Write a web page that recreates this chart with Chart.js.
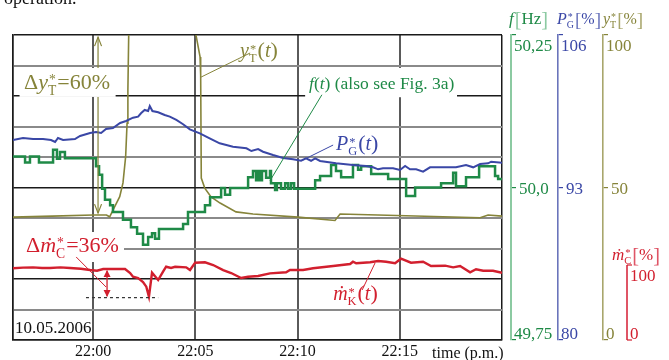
<!DOCTYPE html>
<html><head><meta charset="utf-8">
<script src="https://cdn.jsdelivr.net/npm/chart.js@4.4.1/dist/chart.umd.min.js"></script>
<style>html,body{margin:0;padding:0;background:#fff;}canvas{display:block}</style>
</head><body>
<canvas id="c" width="669" height="360"></canvas>
<script>
// ---------- data ----------
const xTickValues = [0, 5, 10, 15];
const xTickLabels = ['22:00', '22:05', '22:10', '22:15'];
const fTickValues = [49.75, 50.0, 50.25];
const fTickLabels = ['49,75', '50,0', '50,25'];
const pgTickValues = [80, 93, 106];
const pgTickLabels = ['80', '93', '106'];
const ytTickValues = [0, 50, 100];
const ytTickLabels = ['0', '50', '100'];
const mcTickValues = [0, 100];
const mcTickLabels = ['0', '100'];

// frequency f [Hz] (step signal), time in minutes after 22:00
const fTime = [-3.92,-3.33,-3.09,-2.65,-1.96,-1.77,-1.62,-1.38,0.14,0.29,0.44,0.58,0.83,0.97,1.46,1.85,2.15,2.44,2.69,2.88,3.03,3.22,4.40,4.64,5.47,5.72,6.26,6.45,6.70,7.58,7.82,7.97,8.07,8.17,8.26,8.46,8.65,8.70,8.90,8.99,9.19,9.39,9.54,9.68,9.83,10.86,11.10,11.64,11.88,12.13,12.71,12.96,13.11,13.60,14.43,15.31,15.75,17.02,17.61,17.75,18.24,18.88,19.66,19.81,20];
const fVal  = [50.051,50.041,50.051,50.041,50.062,50.047,50.058,50.048,50.035,50.021,49.998,49.980,49.971,49.960,49.947,49.935,49.924,49.906,49.919,49.925,49.916,49.932,49.940,49.960,49.971,49.984,49.999,49.988,49.999,50.017,50.027,50.012,50.027,50.012,50.027,50.016,50.027,50.007,49.996,50.007,49.998,50.007,49.998,50.007,49.998,50.012,50.019,50.037,50.027,50.017,50.037,50.029,50.035,50.022,50.014,49.986,50.000,50.007,50.024,50.002,50.017,50.035,50.019,50.014,50.014];

// generator power P*G [%]
const pgTime = [-3.92,-3.43,-2.94,-2.45,-2.06,-1.86,-1.72,-1.47,-0.89,-0.64,-0.15,0.14,0.39,0.63,0.97,1.32,1.61,1.95,2.20,2.34,2.52,2.69,2.77,2.90,3.18,3.50,3.75,4.07,4.40,4.73,5.22,5.70,6.19,6.84,7.50,7.74,8.07,8.31,8.80,9.29,9.78,10.17,10.41,10.66,10.86,11.10,11.88,12.71,13.35,13.69,13.94,14.18,14.67,15.01,15.26,15.50,15.80,16.14,16.48,17.75,18.24,18.59,18.93,19.32,19.47,20];
const pgVal  = [97.05,97.22,97.13,97.13,97.05,96.88,97.22,97.05,97.13,97.39,97.65,97.73,97.65,97.99,98.07,98.50,98.67,98.95,99.04,99.33,99.61,99.52,99.95,99.52,99.41,99.18,99.04,98.76,98.39,97.96,97.62,97.19,96.77,96.48,96.34,96.11,96.28,96.05,95.77,95.52,95.40,95.28,95.49,95.28,95.49,95.26,95.06,94.92,94.83,94.72,94.55,94.64,94.64,94.49,94.83,94.55,94.55,94.35,94.72,94.72,94.92,94.72,95.00,95.06,95.20,95.11];

// turbine valve y*T [%]
const ytTime = [-3.92,-2,0,0.65,0.81,0.97,1.30,1.46,1.59,1.66,1.70,1.74,1.80,4.98,5.03,5.23,5.26,5.29,5.46,5.77,6.21,6.99,7.82,10.02,11.83,12.08,13.93,18.93,19.32,20];
const ytVal  = [40.3,40.6,41.0,41.0,40.4,42.6,47.0,51.5,60.1,71.1,82.0,100,104,104,100,92.8,86.9,53.1,49.8,46.9,44.9,42.0,41.3,40.3,39.2,41.3,41.0,40.1,41.0,40.6];

// coal / fuel flow m*C [%]
const mcTime = [-3.92,-3.43,-2.94,-2.5,-2.11,-1.6,-1.13,-0.6,-0.15,0.19,0.49,1.56,1.81,1.95,2.20,2.44,2.60,2.73,2.88,3.18,3.42,3.57,3.81,4.01,4.55,4.74,4.99,5.47,5.87,6.36,6.75,7.24,7.58,8.07,8.65,9.44,9.63,10.27,10.76,11.74,12.57,12.71,12.87,13.55,13.94,14.33,14.77,15.06,15.55,16.14,16.53,17.22,17.61,17.95,18.44,18.73,19.08,19.56,20];
const mcVal  = [95.6,96.5,96.9,96.0,96.0,96.9,96.0,95.0,93.3,92.4,94.7,94.7,89.3,84.4,82.7,77.3,71.1,57.7,89.7,80.0,91.1,97.7,96.0,97.7,96.9,93.3,103.1,103.6,100.0,93.3,89.3,82.7,84.4,85.3,88.9,90.3,93.3,93.3,95.6,98.7,101.3,104.4,102.3,103.6,105.3,104.4,102.3,108.4,103.1,104.4,98.7,99.1,96.9,98.7,90.3,94.3,92.4,92.4,89.7];

// ---------- style ----------
const FONT = '"Liberation Serif","DejaVu Serif",serif';
const GREEN = '#1f8a47', GREEN_L = '#8ccaa2';
const BLUE = '#3a47a6', BLUE_L = '#6a74bb';
const OLIVE = '#86843a', OLIVE_L = '#a8a66c';
const RED = '#d21f2e', RED_L = '#df5566';
const xMin = -3.92, xMax = 20;
const mcAxisMax = 406.7;
const blackRows = [0, 2, 5, 8, 10];

const zip = (t, v) => t.map((x, i) => ({ x, y: v[i] }));

function rich(ctx, x, y, size, color, segs) {
  let cx = x;
  ctx.textAlign = 'left'; ctx.textBaseline = 'alphabetic';
  for (const s of segs) {
    ctx.fillStyle = s.c || color;
    if (s.sup !== undefined) {
      const fs = size * 0.62;
      ctx.font = `${fs}px ${FONT}`;
      const w1 = ctx.measureText(s.sup).width;
      const w2 = s.sub ? ctx.measureText(s.sub).width : 0;
      ctx.fillText(s.sup, cx + 1, y - size * 0.22);
      if (s.sub) ctx.fillText(s.sub, cx, y + size * 0.26);
      cx += Math.max(w1 + 1, w2) + 1;
    } else {
      const fs = size * (s.k || 1);
      ctx.font = `${s.it ? 'italic ' : ''}${fs}px ${FONT}`;
      ctx.fillText(s.t, cx, y + (s.dy || 0));
      cx += ctx.measureText(s.t).width + (s.sp || 0);
    }
  }
  return cx;
}
function line(ctx, x1, y1, x2, y2) { ctx.beginPath(); ctx.moveTo(x1, y1); ctx.lineTo(x2, y2); ctx.stroke(); }
function head(ctx, x, y, dir, w, h, fill) {
  ctx.beginPath();
  ctx.moveTo(x - w, y - dir * h); ctx.lineTo(x, y); ctx.lineTo(x + w, y - dir * h);
  if (fill) { ctx.closePath(); ctx.fill(); } else ctx.stroke();
}

const annot = {
  id: 'annot',
  beforeDatasetsDraw(c) {
    const ctx = c.ctx, X = c.scales.x, F = c.scales.yf, T = c.scales.yt, M = c.scales.ym;
    const xp = v => X.getPixelForValue(v);
    ctx.save(); ctx.fillStyle = '#fff';
    ctx.fillRect(xp(-3.6), T.getPixelForValue(89.2), xp(1.1) - xp(-3.6), T.getPixelForValue(79.7) - T.getPixelForValue(89.2));
    ctx.fillRect(X.left + 1, M.getPixelForValue(144), xp(1.51) - X.left - 1, M.getPixelForValue(104) - M.getPixelForValue(144));
    ctx.fillRect(xp(10.37), F.getPixelForValue(50.196), xp(17.8) - xp(10.37), F.getPixelForValue(50.148) - F.getPixelForValue(50.196));
    ctx.restore();
  },
  afterDraw(c) {
    const ctx = c.ctx, X = c.scales.x, F = c.scales.yf, P = c.scales.yp, T = c.scales.yt, M = c.scales.ym, G = c.scales.yg;
    const xp = v => X.getPixelForValue(v);
    ctx.save();
    function axisLabels(sc, vals, labels, color) {
      ctx.font = `17px ${FONT}`; ctx.fillStyle = color; ctx.textAlign = 'left'; ctx.textBaseline = 'alphabetic';
      vals.forEach((v, i) => {
        const y = sc.getPixelForValue(v);
        let dx, by;
        if (i === vals.length - 1) { dx = 3; by = y + 16; }
        else if (i === 0) { dx = 3; by = y - 1; }
        else { dx = 8; by = y + 6; }
        ctx.fillText(labels[i], sc.left + dx, by);
      });
    }
    axisLabels(F, fTickValues, fTickLabels, GREEN);
    axisLabels(P, pgTickValues, pgTickLabels, BLUE);
    axisLabels(T, ytTickValues, ytTickLabels, OLIVE);
    axisLabels(M, mcTickValues, mcTickLabels, RED);
    ctx.strokeStyle = RED_L; ctx.lineWidth = 2;
    const m0 = M.getPixelForValue(0), m1 = M.getPixelForValue(100);
    line(ctx, M.left, m0, M.left, m1);
    ctx.lineWidth = 1.2; ctx.strokeStyle = RED;
    line(ctx, M.left, m1, M.left + 5, m1); line(ctx, M.left, m0, M.left + 5, m0);
    // axis titles
    rich(ctx, F.left - 2, 24, 17, GREEN, [{ t: 'f', it: 1, sp: 1 }, { t: '[', c: GREEN_L, k: 1.2, dy: 2 }, { t: 'Hz' }, { t: ']', c: GREEN_L, k: 1.2, dy: 2 }]);
    rich(ctx, P.left - 1, 24, 16, BLUE, [{ t: 'P', it: 1 }, { sup: '*', sub: 'G' }, { t: '[', c: BLUE_L, k: 1.2, dy: 2 }, { t: '%' }, { t: ']', c: BLUE_L, k: 1.2, dy: 2 }]);
    rich(ctx, T.left, 24, 16, OLIVE, [{ t: 'y', it: 1 }, { sup: '*', sub: 'T' }, { t: '[', c: OLIVE_L, k: 1.2, dy: 2 }, { t: '%' }, { t: ']', c: OLIVE_L, k: 1.2, dy: 2 }]);
    rich(ctx, M.left - 15, M.getPixelForValue(100) - 5, 17, RED, [{ t: 'ṁ', it: 1 }, { sup: '*', sub: 'C' }, { t: '[', c: RED_L, k: 1.2, dy: 2 }, { t: '%' }, { t: ']', c: RED_L, k: 1.2, dy: 2 }]);

    // curve labels and leaders
    ctx.lineWidth = 1;
    ctx.strokeStyle = OLIVE;
    line(ctx, xp(7.68), T.getPixelForValue(94.1), xp(5.28), T.getPixelForValue(86.2));
    rich(ctx, xp(7.19), T.getPixelForValue(92.8), 20, OLIVE, [{ t: 'y', it: 1 }, { sup: '*', sub: 'T' }, { t: '(', k: 1.1 }, { t: 't', it: 1 }, { t: ')', k: 1.1 }]);
    ctx.strokeStyle = GREEN;
    line(ctx, xp(11.19), F.getPixelForValue(50.152), xp(8.65), F.getPixelForValue(50.011));
    rich(ctx, xp(10.56), F.getPixelForValue(50.1615), 17.5, GREEN, [{ t: 'f', it: 1 }, { t: '(' }, { t: 't', it: 1 }, { t: ') (also see Fig. 3a)' }]);
    ctx.strokeStyle = BLUE;
    line(ctx, xp(11.74), P.getPixelForValue(96.62), xp(10.27), P.getPixelForValue(95.35));
    rich(ctx, xp(11.88), P.getPixelForValue(96.2), 20, BLUE, [{ t: 'P', it: 1 }, { sup: '*', sub: 'G' }, { t: '(', k: 1.1 }, { t: 't', it: 1 }, { t: ')', k: 1.1 }]);
    ctx.strokeStyle = RED;
    line(ctx, xp(13.16), M.getPixelForValue(66.7), xp(13.79), M.getPixelForValue(102.7));
    rich(ctx, xp(11.74), M.getPixelForValue(53.3), 20, RED, [{ t: 'ṁ', it: 1 }, { sup: '*', sub: 'K' }, { t: '(', k: 1.1 }, { t: 't', it: 1 }, { t: ')', k: 1.1 }]);

    // delta y_T annotation
    rich(ctx, xp(-3.38), T.getPixelForValue(82.3), 22, OLIVE, [{ t: 'Δ' }, { t: 'y', it: 1 }, { sup: '*', sub: 'T' }, { t: '=60%' }]);
    ctx.strokeStyle = OLIVE; ctx.lineWidth = 1.2;
    const ax = xp(0.24);
    line(ctx, ax, T.getPixelForValue(99.3), ax, T.getPixelForValue(89.2));
    line(ctx, ax, T.getPixelForValue(79.7), ax, T.getPixelForValue(41.6));
    head(ctx, ax, T.getPixelForValue(99.3), -1, 3.5, 9, false);
    head(ctx, ax, T.getPixelForValue(41.6), 1, 3.5, 9, false);

    // delta m_C annotation
    rich(ctx, xp(-3.28), M.getPixelForValue(117.3), 22, RED, [{ t: 'Δ' }, { t: 'ṁ', it: 1 }, { sup: '*', sub: 'C' }, { t: '=36%' }]);
    ctx.strokeStyle = RED; ctx.fillStyle = RED; ctx.lineWidth = 1;
    line(ctx, xp(-0.83), M.getPixelForValue(110.7), xp(0.63), M.getPixelForValue(70.7));
    const rx = xp(0.68);
    ctx.lineWidth = 1.3;
    line(ctx, rx, M.getPixelForValue(92.3), rx, M.getPixelForValue(58.3));
    head(ctx, rx, M.getPixelForValue(93.3), -1, 3.5, 7, true);
    head(ctx, rx, M.getPixelForValue(57.3), 1, 3.5, 7, true);
    ctx.strokeStyle = '#333'; ctx.lineWidth = 1.2; ctx.setLineDash([3, 3]);
    line(ctx, xp(-0.35), M.getPixelForValue(56.5), xp(3.18), M.getPixelForValue(56.5));
    ctx.setLineDash([]);

    // date, time label, cropped caption
    ctx.fillStyle = '#111'; ctx.font = `17px ${FONT}`; ctx.textAlign = 'left'; ctx.textBaseline = 'alphabetic';
    ctx.fillText('10.05.2006', xp(-3.82), G.getPixelForValue(0.23));
    ctx.font = `16px ${FONT}`;
    ctx.fillText('time (p.m.)', xp(16.58), X.top + 18);
    ctx.font = `18px ${FONT}`;
    ctx.fillText('operation.', 4, 4);
    ctx.restore();
  }
};

new Chart(document.getElementById('c'), {
  type: 'line',
  data: {
    datasets: [
      { data: zip(mcTime, mcVal), yAxisID: 'ym', borderColor: RED, borderWidth: 2.4, order: 1 },
      { data: zip(pgTime, pgVal), yAxisID: 'yp', borderColor: BLUE, borderWidth: 2, order: 2 },
      { data: zip(fTime, fVal), yAxisID: 'yf', borderColor: GREEN, borderWidth: 2.5, stepped: true, order: 3 },
      { data: zip(ytTime, ytVal), yAxisID: 'yt', borderColor: OLIVE, borderWidth: 1.6, order: 4 }
    ]
  },
  options: {
    responsive: false, animation: false, devicePixelRatio: 1,
    layout: { padding: { top: 35, left: 0, right: 0, bottom: 0 } },
    elements: { point: { radius: 0 }, line: { tension: 0, fill: false } },
    plugins: { legend: { display: false }, tooltip: { enabled: false } },
    scales: {
      x: {
        type: 'linear', position: 'bottom', min: xMin, max: xMax,
        afterBuildTicks: s => { s.ticks = [xMin, ...xTickValues, xMax].map(v => ({ value: v })); },
        ticks: {
          autoSkip: false, maxRotation: 0, padding: 2, color: '#111', font: { family: FONT, size: 16 },
          callback: v => { const i = xTickValues.indexOf(v); return i >= 0 ? xTickLabels[i] : ''; }
        },
        grid: {
          drawTicks: false,
          color: ctx => (ctx.tick && (ctx.tick.value === xMin || ctx.tick.value === xMax)) ? '#1a1a1a' : '#5a5a5a',
          lineWidth: ctx => (ctx.tick && (ctx.tick.value === xMin || ctx.tick.value === xMax)) ? 1.5 : 2
        },
        border: { display: true, color: '#1a1a1a', width: 1.5 },
        afterFit: s => { s.height = 20; }
      },
      yg: {
        type: 'linear', position: 'left', min: 0, max: 10,
        afterBuildTicks: s => { s.ticks = Array.from({ length: 11 }, (_, i) => ({ value: i })); },
        ticks: { display: false },
        grid: {
          drawTicks: false,
          color: ctx => blackRows.includes(ctx.tick && ctx.tick.value) ? '#1a1a1a' : '#8a8a8a',
          lineWidth: ctx => blackRows.includes(ctx.tick && ctx.tick.value) ? 1.4 : 2
        },
        border: { display: true, color: '#1a1a1a', width: 1.5 },
        afterFit: s => { s.width = 13; }
      },
      spacer: {
        type: 'linear', position: 'right', weight: 0, min: 0, max: 1,
        ticks: { display: false }, grid: { display: false }, border: { display: false },
        afterFit: s => { s.width = 9; }
      },
      yf: {
        type: 'linear', position: 'right', weight: 1, min: 49.75, max: 50.25,
        afterBuildTicks: s => { s.ticks = fTickValues.map(v => ({ value: v })); },
        ticks: { display: false },
        grid: { drawOnChartArea: false, drawTicks: true, tickLength: 5, color: GREEN, lineWidth: 1.2 },
        border: { display: true, color: GREEN_L, width: 2 },
        afterFit: s => { s.width = 47; }
      },
      yp: {
        type: 'linear', position: 'right', weight: 2, min: 80, max: 106,
        afterBuildTicks: s => { s.ticks = pgTickValues.map(v => ({ value: v })); },
        ticks: { display: false },
        grid: { drawOnChartArea: false, drawTicks: true, tickLength: 5, color: BLUE, lineWidth: 1.2 },
        border: { display: true, color: BLUE_L, width: 1.6 },
        afterFit: s => { s.width = 45; }
      },
      yt: {
        type: 'linear', position: 'right', weight: 3, min: 0, max: 100,
        afterBuildTicks: s => { s.ticks = ytTickValues.map(v => ({ value: v })); },
        ticks: { display: false },
        grid: { drawOnChartArea: false, drawTicks: true, tickLength: 5, color: OLIVE, lineWidth: 1.2 },
        border: { display: true, color: OLIVE_L, width: 1.6 },
        afterFit: s => { s.width = 24; }
      },
      ym: {
        type: 'linear', position: 'right', weight: 4, min: 0, max: mcAxisMax,
        ticks: { display: false }, grid: { display: false }, border: { display: false },
        afterFit: s => { s.width = 42; }
      }
    }
  },
  plugins: [annot]
});
</script>
</body></html>
